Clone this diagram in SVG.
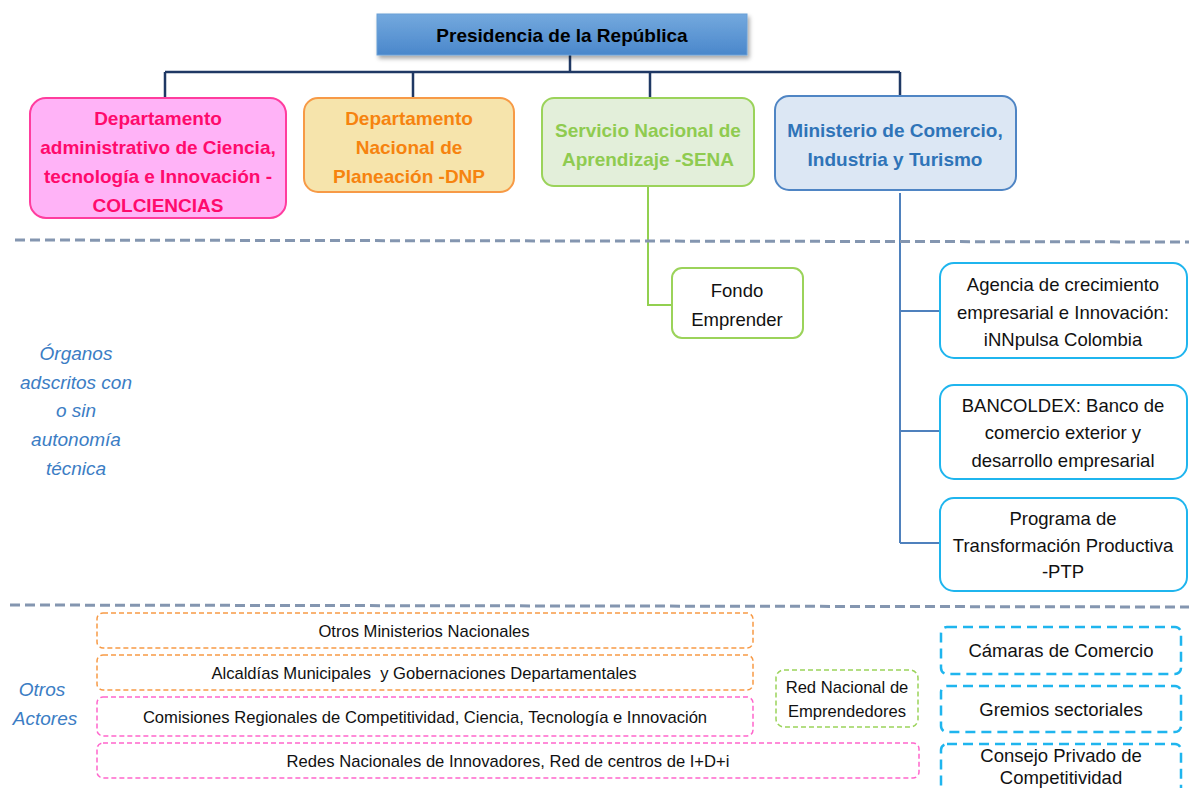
<svg xmlns="http://www.w3.org/2000/svg" width="1189" height="788" viewBox="0 0 1189 788">
<defs>
<linearGradient id="gPres" x1="0" y1="0" x2="0" y2="1">
<stop offset="0" stop-color="#74A9DE"/>
<stop offset="1" stop-color="#4A87CB"/>
</linearGradient>
<filter id="shadow" x="-10%" y="-20%" width="120%" height="160%">
<feDropShadow dx="2" dy="3" stdDeviation="2" flood-color="#000" flood-opacity="0.35"/>
</filter>
</defs>
<style>
text{font-family:"Liberation Sans",Arial,sans-serif;text-anchor:middle;}
.bold{font-weight:bold;font-size:19px;}
.reg{font-size:18.5px;fill:#111;}
.small{font-size:16.6px;fill:#111;}
.pre{white-space:pre;}
.side{font-size:19px;font-style:italic;fill:#3B7DC4;}
.sep{stroke:#8496B0;stroke-width:3;stroke-dasharray:10 5;fill:none;}
.cyan{fill:#fff;stroke:#1FB5EE;stroke-width:2;}
.dor{fill:none;stroke:#F79A46;stroke-width:1.5;stroke-dasharray:5 3;}
.dpk{fill:none;stroke:#FF66CC;stroke-width:1.5;stroke-dasharray:5 3;}
.dgr{fill:none;stroke:#9BD35A;stroke-width:1.5;stroke-dasharray:5 3;}
.dcy{fill:none;stroke:#1FB5EE;stroke-width:2.5;stroke-dasharray:10 6;}
</style>

<g id="connectors">
<path d="M570 55 V72 M165 72 H900 M165 72 V98 M413 72 V98 M650 72 V98 M900 72 V96" stroke="#1F3864" stroke-width="2.5" fill="none"/>
<path d="M648 186 V305 H672" stroke="#92D050" stroke-width="2" fill="none"/>
<path d="M900 193 V543 M900 311 H940 M900 431 H940 M900 543 H940" stroke="#4F81BD" stroke-width="2" fill="none"/>
</g>

<g id="separators">
<line class="sep" x1="15" y1="240" x2="1189" y2="242"/>
<line class="sep" x1="10" y1="605" x2="1189" y2="607"/>
</g>

<g id="presidencia">
<rect x="377" y="14" width="370" height="41" fill="url(#gPres)" stroke="#6A9FD6" stroke-width="1" filter="url(#shadow)"/>
<text class="bold" x="562" y="42" fill="#000">Presidencia de la República</text>
</g>

<g id="colciencias">
<rect x="30" y="98" width="256" height="120" rx="16" fill="#FFB3F7" stroke="#FF3D9E" stroke-width="2"/>
<text class="bold" fill="#FF0A6C"><tspan x="158" y="125">Departamento</tspan><tspan x="158" y="154">administrativo de Ciencia,</tspan><tspan x="158" y="183">tecnología e Innovación -</tspan><tspan x="158" y="212">COLCIENCIAS</tspan></text>
</g>

<g id="dnp">
<rect x="304" y="98" width="210" height="94" rx="14" fill="#F6E4AC" stroke="#F79A46" stroke-width="2"/>
<text class="bold" fill="#F6830F"><tspan x="409" y="125">Departamento</tspan><tspan x="409" y="154">Nacional de</tspan><tspan x="409" y="183">Planeación -DNP</tspan></text>
</g>

<g id="sena">
<rect x="542" y="98" width="212" height="88" rx="12" fill="#E3EFDA" stroke="#9BD35A" stroke-width="2"/>
<text class="bold" fill="#8FCB50"><tspan x="648" y="137">Servicio Nacional de</tspan><tspan x="648" y="166">Aprendizaje -SENA</tspan></text>
</g>

<g id="mincomercio">
<rect x="775" y="96" width="241" height="94" rx="14" fill="#DCE7F4" stroke="#4F85C4" stroke-width="2"/>
<text class="bold" fill="#2F74B8"><tspan x="895" y="137">Ministerio de Comercio,</tspan><tspan x="895" y="166">Industria y Turismo</tspan></text>
</g>

<g id="fondo">
<rect x="672" y="268" width="131" height="70" rx="10" fill="#fff" stroke="#9BD35A" stroke-width="2"/>
<text class="reg"><tspan x="737" y="297">Fondo</tspan><tspan x="737" y="326">Emprender</tspan></text>
</g>

<g id="innpulsa">
<rect class="cyan" x="940" y="263" width="247" height="95" rx="14"/>
<text class="reg"><tspan x="1063" y="291">Agencia de crecimiento</tspan><tspan x="1063" y="319">empresarial e Innovación:</tspan><tspan x="1063" y="346">iNNpulsa Colombia</tspan></text>
</g>

<g id="bancoldex">
<rect class="cyan" x="940" y="385" width="247" height="94" rx="14"/>
<text class="reg"><tspan x="1063" y="412">BANCOLDEX: Banco de</tspan><tspan x="1063" y="439">comercio exterior y</tspan><tspan x="1063" y="467">desarrollo empresarial</tspan></text>
</g>

<g id="ptp">
<rect class="cyan" x="940" y="498" width="247" height="93" rx="14"/>
<text class="reg"><tspan x="1063" y="525">Programa de</tspan><tspan x="1063" y="552">Transformación Productiva</tspan><tspan x="1063" y="578">-PTP</tspan></text>
</g>

<g id="label-organos">
<text class="side"><tspan x="76" y="360">Órganos</tspan><tspan x="76" y="389">adscritos con</tspan><tspan x="76" y="417">o sin</tspan><tspan x="76" y="446">autonomía</tspan><tspan x="76" y="475">técnica</tspan></text>
</g>

<g id="label-otros">
<text class="side"><tspan x="42" y="696">Otros</tspan><tspan x="45" y="725">Actores</tspan></text>
</g>

<g id="otros-ministerios">
<rect class="dor" x="97" y="613" width="656" height="35" rx="6"/>
<text class="small" x="424" y="637">Otros Ministerios Nacionales</text>
</g>

<g id="alcaldias">
<rect class="dor" x="97" y="655" width="656" height="35" rx="6"/>
<text class="small pre" x="424" y="679">Alcaldías Municipales  y Gobernaciones Departamentales</text>
</g>

<g id="comisiones">
<rect class="dpk" x="97" y="697" width="656" height="39" rx="6"/>
<text class="small" x="425" y="723">Comisiones Regionales de Competitividad, Ciencia, Tecnología e Innovación</text>
</g>

<g id="redes">
<rect class="dpk" x="97" y="743" width="822" height="35" rx="6"/>
<text class="small" x="508" y="767">Redes Nacionales de Innovadores, Red de centros de I+D+i</text>
</g>

<g id="red-emprendedores">
<rect class="dgr" x="776" y="670" width="142" height="57" rx="8"/>
<text class="small"><tspan x="847" y="693">Red Nacional de</tspan><tspan x="847" y="717">Emprendedores</tspan></text>
</g>

<g id="camaras">
<rect class="dcy" x="941" y="627" width="240" height="47" rx="6"/>
<text class="reg" x="1061" y="657">Cámaras de Comercio</text>
</g>

<g id="gremios">
<rect class="dcy" x="941" y="686" width="240" height="46" rx="6"/>
<text class="reg" x="1061" y="716">Gremios sectoriales</text>
</g>

<g id="consejo">
<rect class="dcy" x="941" y="744" width="240" height="60" rx="6"/>
<text class="reg"><tspan x="1061" y="762">Consejo Privado de</tspan><tspan x="1061" y="784">Competitividad</tspan></text>
</g>
</svg>
